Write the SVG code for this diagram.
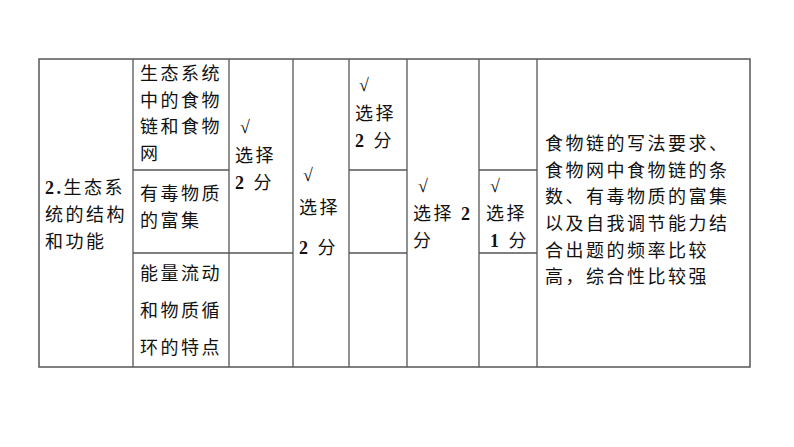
<svg xmlns="http://www.w3.org/2000/svg" width="794" height="447" viewBox="0 0 794 447">
<style>
line{stroke:#555;stroke-width:1.3}
text{font-family:"Liberation Serif","Noto Sans CJK SC",serif;font-size:18px;fill:#111;letter-spacing:2.5px}
.b{font-weight:bold}
</style>
<rect width="794" height="447" fill="#fff"/>
<g id="grid">
<rect x="39" y="59" width="711" height="308" fill="none" stroke="#555" stroke-width="1.5"/>
<line x1="133" y1="59" x2="133" y2="367"/>
<line x1="229" y1="59" x2="229" y2="367"/>
<line x1="293" y1="59" x2="293" y2="367"/>
<line x1="349" y1="59" x2="349" y2="367"/>
<line x1="407" y1="59" x2="407" y2="367"/>
<line x1="479" y1="59" x2="479" y2="367"/>
<line x1="537" y1="59" x2="537" y2="367"/>
<line x1="133" y1="170" x2="229" y2="170"/>
<line x1="133" y1="253" x2="293" y2="253"/>
<line x1="349" y1="170" x2="407" y2="170"/>
<line x1="349" y1="253" x2="407" y2="253"/>
<line x1="479" y1="170" x2="537" y2="170"/>
<line x1="479" y1="253" x2="537" y2="253"/>
</g>
<g id="c1">
<text x="45" y="194"><tspan class="b">2.</tspan>生态系</text>
<text x="45" y="221">统的结构</text>
<text x="45" y="248">和功能</text>
</g>
<g id="c2">
<text x="140" y="80">生态系统</text>
<text x="140" y="107">中的食物</text>
<text x="140" y="133">链和食物</text>
<text x="140" y="160">网</text>
<text x="140" y="200">有毒物质</text>
<text x="140" y="227">的富集</text>
<text x="140" y="280">能量流动</text>
<text x="140" y="317">和物质循</text>
<text x="140" y="354">环的特点</text>
</g>
<g id="c3">
<text x="240" y="133" class="b">√</text>
<text x="235" y="162">选择</text>
<text x="235" y="189"><tspan class="b">2</tspan> 分</text>
</g>
<g id="c4">
<text x="303" y="181" class="b">√</text>
<text x="299" y="214">选择</text>
<text x="299" y="254"><tspan class="b">2</tspan> 分</text>
</g>
<g id="c5">
<text x="359" y="91" class="b">√</text>
<text x="355" y="120">选择</text>
<text x="355" y="147"><tspan class="b">2</tspan> 分</text>
</g>
<g id="c6">
<text x="418" y="192" class="b">√</text>
<text x="413" y="220">选择 <tspan class="b">2</tspan></text>
<text x="413" y="247">分</text>
</g>
<g id="c7">
<text x="490" y="192" class="b">√</text>
<text x="486" y="220">选择</text>
<text x="490" y="247"><tspan class="b">1</tspan> 分</text>
</g>
<g id="c8">
<text x="545" y="150">食物链的写法要求、</text>
<text x="545" y="177">食物网中食物链的条</text>
<text x="545" y="203">数、有毒物质的富集</text>
<text x="545" y="230">以及自我调节能力结</text>
<text x="545" y="257">合出题的频率比较</text>
<text x="545" y="283">高，综合性比较强</text>
</g>
</svg>
